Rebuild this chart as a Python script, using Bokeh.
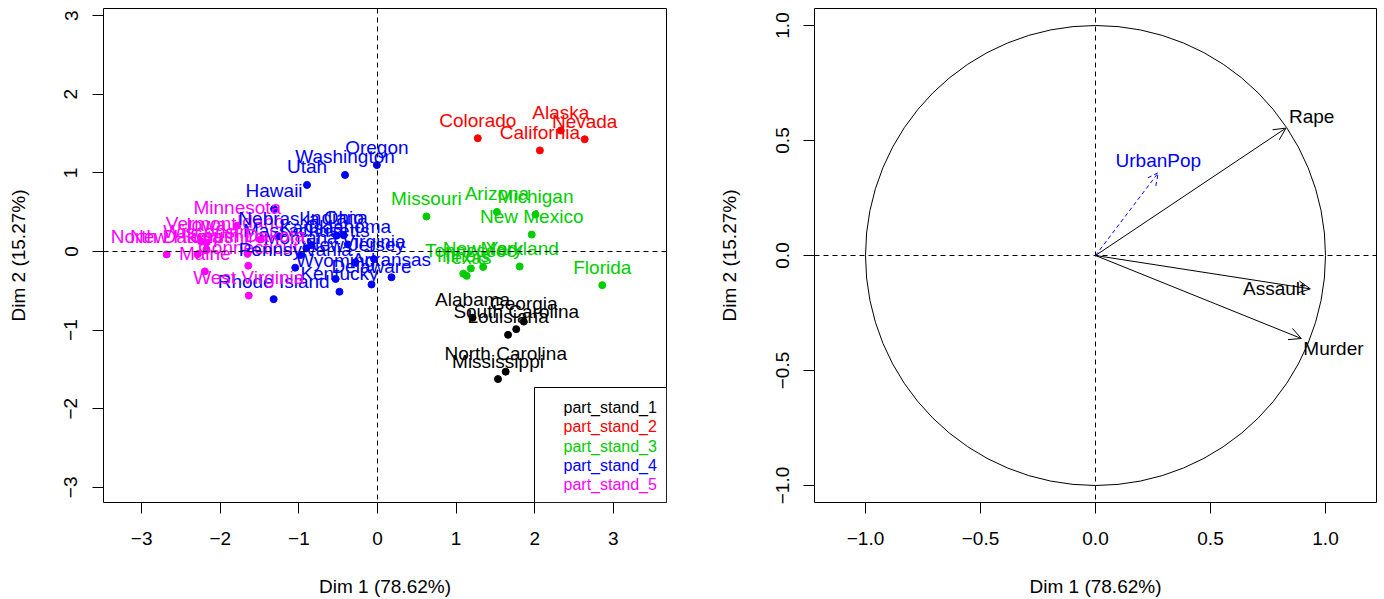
from bokeh.plotting import figure
from bokeh.layouts import row
from bokeh.models import ColumnDataSource, Span, Arrow, OpenHead, FixedTicker, Range1d
from bokeh.core.properties import value
from bokeh.embed import file_html
from bokeh.resources import INLINE

# ---------------- data ----------------
states = ["Alabama", "Alaska", "Arizona", "Arkansas", "California", "Colorado",
          "Connecticut", "Delaware", "Florida", "Georgia", "Hawaii", "Idaho",
          "Illinois", "Indiana", "Iowa", "Kansas", "Kentucky", "Louisiana",
          "Maine", "Maryland", "Massachusetts", "Michigan", "Minnesota",
          "Mississippi", "Missouri", "Montana", "Nebraska", "Nevada",
          "New Hampshire", "New Jersey", "New Mexico", "New York",
          "North Carolina", "North Dakota", "Ohio", "Oklahoma", "Oregon",
          "Pennsylvania", "Rhode Island", "South Carolina", "South Dakota",
          "Tennessee", "Texas", "Utah", "Vermont", "Virginia", "Washington",
          "West Virginia", "Wisconsin", "Wyoming"]
dim1 = [1.210, 2.332, 1.519, 0.178, 2.066, 1.276, -1.644, -0.076, 2.860, 1.861,
        -1.316, -1.484, 1.091, -0.519, -2.179, -0.841, -0.484, 1.661, -2.197, 1.809,
        -0.905, 2.010, -1.784, 1.533, 0.623, -0.978, -1.253, 2.636, -2.290, -0.281,
        1.962, 1.344, 1.631, -2.682, -0.430, -0.378, -0.008, -1.047, -1.321, 1.765,
        -1.654, 1.188, 1.135, -0.897, -2.243, -0.044, -0.413, -1.638, -2.176, -0.533]
dim2 = [-0.842, 1.539, 0.504, -0.328, 1.286, 1.441, -0.181, -0.420, -0.428, -0.892,
        0.541, 0.154, -0.282, 0.202, 0.114, 0.081, -0.512, -1.060, -0.253, -0.191,
        0.041, 0.471, 0.328, -1.623, 0.446, -0.045, 0.193, 1.428, -0.035, -0.136,
        0.215, -0.197, -1.529, -0.037, 0.207, 0.090, 1.100, -0.206, -0.606, -0.988,
        -0.030, -0.215, -0.310, 0.847, 0.126, -0.097, 0.974, -0.561, 0.028, -0.349]
cluster = [1, 2, 3, 4, 2, 2, 5, 4, 3, 1,
           4, 5, 3, 4, 5, 4, 4, 1, 5, 3,
           4, 3, 5, 1, 3, 4, 4, 2, 5, 4,
           3, 3, 1, 5, 4, 4, 4, 4, 4, 1,
           5, 3, 3, 4, 5, 4, 4, 5, 5, 4]
cluster_names = ["part_stand_1", "part_stand_2", "part_stand_3", "part_stand_4", "part_stand_5"]

var_names = ["Murder", "Assault", "Rape"]
var_dim1 = [0.895, 0.934, 0.828]
var_dim2 = [-0.361, -0.145, 0.554]
sup_names = ["UrbanPop"]
sup_dim1 = [0.273]
sup_dim2 = [0.360]

x_label = "Dim 1 (78.62%)"
y_label = "Dim 2 (15.27%)"
left_ticks = [-3, -2, -1, 0, 1, 2, 3]
right_ticks = [-1.0, -0.5, 0.0, 0.5, 1.0]
right_tick_labels = ["\u22121.0", "\u22120.5", "0.0", "0.5", "1.0"]

# ---------------- styles ----------------
palette = ["#000000", "#FF0000", "#00CD00", "#0000FF", "#FF00FF"]
FONT = "Liberation Sans"
FS = "19px"

def style_axes(p):
    for ax in (p.xaxis[0], p.yaxis[0]):
        ax.axis_line_color = None
        ax.major_tick_out = 11
        ax.major_tick_in = 0
        ax.minor_tick_line_color = None
        ax.major_tick_line_color = "black"
        ax.major_label_text_font = FONT
        ax.major_label_text_font_size = FS
        ax.major_label_text_color = "black"
        ax.axis_label_text_font = FONT
        ax.axis_label_text_font_size = FS
        ax.axis_label_text_font_style = "normal"
        ax.axis_label_text_color = "black"
    p.xaxis[0].major_label_standoff = 18
    p.xaxis[0].axis_label_standoff = 28
    p.yaxis[0].major_label_standoff = 15
    p.yaxis[0].axis_label_standoff = 33
    p.yaxis[0].major_label_orientation = "parallel"
    p.xgrid.visible = False
    p.ygrid.visible = False
    p.outline_line_color = "black"
    p.outline_line_width = 1
    p.background_fill_color = "white"
    p.border_fill_color = "white"

def add_zero_lines(p):
    p.add_layout(Span(location=0, dimension="width", line_color="black",
                      line_width=1, line_dash="5 4"))
    p.add_layout(Span(location=0, dimension="height", line_color="black",
                      line_width=1, line_dash="5 4"))

# ---------------- left: individuals ----------------
L_SCALE = 78.6
lx = (-274 / L_SCALE, 289 / L_SCALE)
ly = (-251 / L_SCALE, 243 / L_SCALE)
p1 = figure(width=692, height=599, frame_width=563, frame_height=494,
            x_range=Range1d(*lx), y_range=Range1d(*ly),
            min_border_left=103, min_border_right=26, min_border_top=8,
            min_border_bottom=97, toolbar_location=None, output_backend="svg",
            x_axis_label=x_label, y_axis_label=y_label)
style_axes(p1)
p1.xaxis[0].ticker = FixedTicker(ticks=left_ticks)
p1.yaxis[0].ticker = FixedTicker(ticks=left_ticks)
p1.xaxis[0].major_label_overrides = {t: str(t).replace("-", "\u2212") for t in left_ticks}
p1.yaxis[0].major_label_overrides = {t: str(t).replace("-", "\u2212") for t in left_ticks}
add_zero_lines(p1)

ind_src = ColumnDataSource(dict(x=dim1, y=dim2, name=states,
                                color=[palette[c - 1] for c in cluster]))
p1.scatter("x", "y", source=ind_src, size=7, color="color", line_color="color")
p1.text("x", "y", text="name", source=ind_src, text_color="color",
        text_font=value(FONT), text_font_size=value(FS), text_align="center",
        text_baseline="middle", y_offset=-18)

# legend (drawn in the frame's lower-right corner)
box_w_px, box_h_px = 132, 115
leg_left = lx[1] - box_w_px / L_SCALE
leg_top = ly[0] + box_h_px / L_SCALE
p1.quad(left=[leg_left], right=[lx[1]], top=[leg_top], bottom=[ly[0]],
        fill_color="white", line_color="black", line_width=1)
leg_y = [leg_top - (20 + 19.3 * i) / L_SCALE for i in range(len(cluster_names))]
p1.text(x=[leg_left + 29 / L_SCALE] * len(cluster_names), y=leg_y, text=cluster_names,
        text_color=palette, text_font=value(FONT), text_font_size=value("16px"),
        text_align="left", text_baseline="middle")

# ---------------- right: variables ----------------
R_SCALE = 230.0
rx = (-281 / R_SCALE, 281 / R_SCALE)
ry = (-247 / R_SCALE, 247 / R_SCALE)
p2 = figure(width=692, height=599, frame_width=562, frame_height=494,
            x_range=Range1d(*rx), y_range=Range1d(*ry),
            min_border_left=122, min_border_right=8, min_border_top=8,
            min_border_bottom=97, toolbar_location=None, output_backend="svg",
            x_axis_label=x_label, y_axis_label=y_label)
style_axes(p2)
p2.xaxis[0].ticker = FixedTicker(ticks=right_ticks)
p2.yaxis[0].ticker = FixedTicker(ticks=right_ticks)
p2.xaxis[0].major_label_overrides = dict(zip(right_ticks, right_tick_labels))
p2.yaxis[0].major_label_overrides = dict(zip(right_ticks, right_tick_labels))
add_zero_lines(p2)

p2.ellipse(x=[0], y=[0], width=[2], height=[2], fill_color=None,
           line_color="black", line_width=1)

var_src = ColumnDataSource(dict(x0=[0] * len(var_names), y0=[0] * len(var_names),
                                x1=var_dim1, y1=var_dim2))
p2.add_layout(Arrow(end=OpenHead(size=12, line_width=1, line_color="black"),
                    source=var_src, x_start="x0", y_start="y0", x_end="x1", y_end="y1",
                    line_color="black", line_width=1))
sup_src = ColumnDataSource(dict(x0=[0] * len(sup_names), y0=[0] * len(sup_names),
                                x1=sup_dim1, y1=sup_dim2))
p2.add_layout(Arrow(end=OpenHead(size=12, line_width=1, line_color="#0000FF",
                                 line_dash="4 3"),
                    source=sup_src, x_start="x0", y_start="y0", x_end="x1", y_end="y1",
                    line_color="#0000FF", line_width=1, line_dash="4 3"))

# label placement (align, x offset px, y offset px) for each variable
var_label_style = {"Murder": ("left", 2, 10), "Assault": ("right", -5, 0),
                   "Rape": ("left", 3, -12)}
for n, x, y in zip(var_names, var_dim1, var_dim2):
    a, dx, dy = var_label_style[n]
    p2.text(x=[x], y=[y], text=[n], text_color="black", text_font=value(FONT),
            text_font_size=value(FS), text_align=a, text_baseline="middle",
            x_offset=dx, y_offset=dy)
for n, x, y in zip(sup_names, sup_dim1, sup_dim2):
    p2.text(x=[x], y=[y], text=[n], text_color="#0000FF", text_font=value(FONT),
            text_font_size=value(FS), text_align="center", text_baseline="middle",
            y_offset=-12)

layout = row(p1, p2)
open("out.html", "w").write(file_html(layout, INLINE))
